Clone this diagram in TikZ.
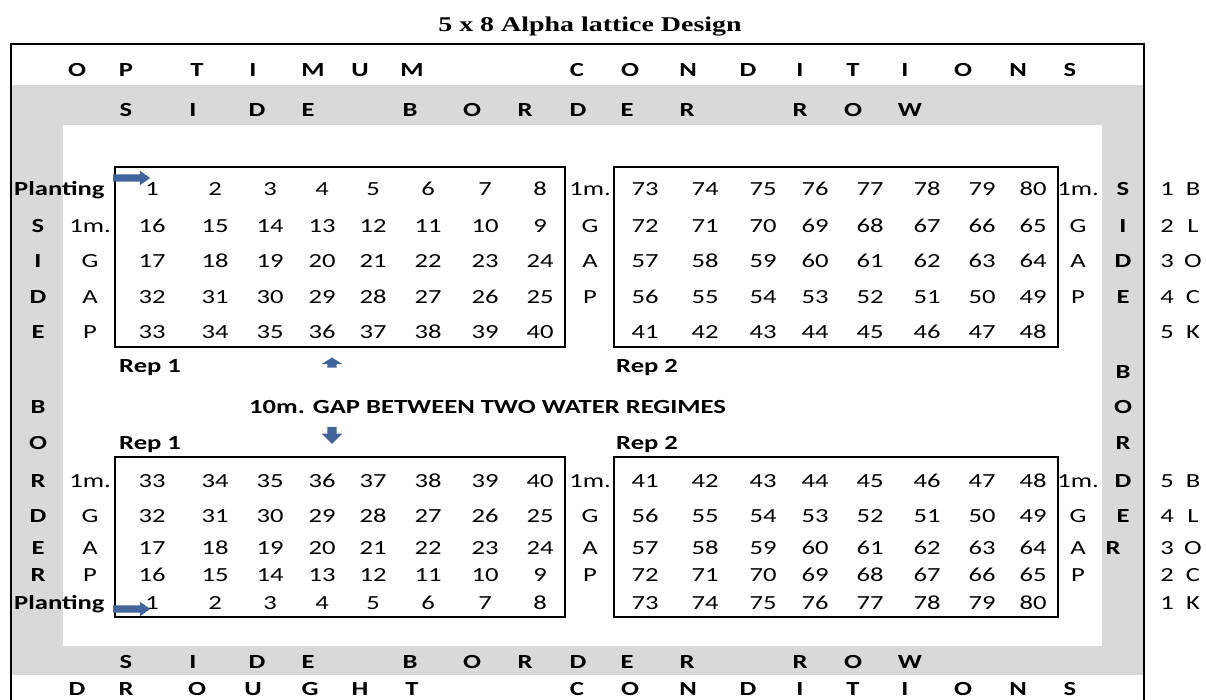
\documentclass[tikz,border=0pt]{standalone}
\usepackage{fontspec}
\setmainfont{Carlito}[FakeStretch=1.33]
\newfontfamily\titlefont{Liberation Serif}[FakeStretch=1.33]
\usetikzlibrary{shapes.arrows}
\definecolor{SheetGray}{HTML}{D9D9D9}
\definecolor{ArrowBlue}{HTML}{41659A}
\tikzset{
  figtitle/.style={font=\titlefont\fontsize{21}{24}\selectfont\bfseries},
  cell/.style={font=\fontsize{20}{22}\selectfont, inner sep=0pt,
               text height=13pt, text depth=0pt},
  bcell/.style={cell, font=\fontsize{20}{22}\selectfont\bfseries},
  plotbox/.style={draw, line width=2.8pt, inner sep=0pt},
  frame/.style={line width=2.6pt},
  blockarrow/.style={single arrow, fill=ArrowBlue, draw=none, inner xsep=0pt,
                     text width=0pt, text height=0pt, text depth=0pt},
}

\begin{document}
\begin{tikzpicture}[x=1pt,y=-1pt]
  \useasboundingbox (0,0) rectangle (1206,700);

  % gray border strips and the outer frame
  \fill[SheetGray] (12,85) rectangle (1143,675);
  \fill[white] (63,125) rectangle (1102,646);
  \draw[frame] (11,700) -- (11,44) -- (1144,44) -- (1144,700);

  \node[figtitle] (title) at (590,27) {5 x 8 Alpha lattice Design};

  % replicate boxes
  \node[plotbox, minimum width=450pt, minimum height=180pt] (topA) at (340,257) {};
  \node[plotbox, minimum width=444pt, minimum height=180pt] (topB) at (836,257) {};
  \node[plotbox, minimum width=450pt, minimum height=160pt] (botA) at (340,537) {};
  \node[plotbox, minimum width=444pt, minimum height=160pt] (botB) at (836,537) {};

  % plot numbers, serpentine by row
  \foreach \y [count=\r] in {189,226,261,297,332}
    \foreach \x [count=\c] in {152,215,270,322,373,428,485,540} {
      \pgfmathtruncatemacro\plotno{8*(\r-1)+(isodd(\r) ? \c : 9-\c)}
      \node[cell] (tA\r-\c) at (\x,\y) {\plotno};
    }
  \foreach \y [count=\r] in {189,226,261,297,332}
    \foreach \x [count=\c] in {645,705,763,815,870,927,982,1033} {
      \pgfmathtruncatemacro\plotno{8*(10-\r)+(isodd(\r) ? \c : 9-\c)}
      \node[cell] (tB\r-\c) at (\x,\y) {\plotno};
    }
  \foreach \y [count=\r] in {481,516,548,575,603}
    \foreach \x [count=\c] in {152,215,270,322,373,428,485,540} {
      \pgfmathtruncatemacro\plotno{8*(5-\r)+(isodd(\r) ? \c : 9-\c)}
      \node[cell] (bA\r-\c) at (\x,\y) {\plotno};
    }
  \foreach \y [count=\r] in {481,516,548,575,603}
    \foreach \x [count=\c] in {645,705,763,815,870,927,982,1033} {
      \pgfmathtruncatemacro\plotno{8*(4+\r)+(isodd(\r) ? \c : 9-\c)}
      \node[cell] (bB\r-\c) at (\x,\y) {\plotno};
    }

  % spelled-out border rows
  \foreach \x/\t [count=\i] in {77/O,126/P,197/T,253/I,313/M,360/U,412/M,577/C,630/O,
      688/N,748/D,800/I,853/T,905/I,963/O,1018/N,1070/S}
    \node[bcell] (opt\i) at (\x,70) {\t};
  \foreach \x/\t [count=\i] in {126/S,193/I,257/D,308/E,410/B,472/O,525/R,578/D,627/E,
      687/R,800/R,853/O,910/W}
    \node[bcell] (sbt\i) at (\x,110) {\t};
  \foreach \x/\t [count=\i] in {126/S,193/I,257/D,308/E,410/B,472/O,525/R,578/D,627/E,
      687/R,800/R,853/O,910/W}
    \node[bcell] (sbb\i) at (\x,662) {\t};
  \foreach \x/\t [count=\i] in {77/D,126/R,197/O,253/U,310/G,360/H,412/T,577/C,630/O,
      688/N,748/D,800/I,853/T,905/I,963/O,1018/N,1070/S}
    \node[bcell] (dro\i) at (\x,689) {\t};

  % side columns
  \foreach \y/\t [count=\i] in {226/S,261/I,297/D,332/E,407/B,443/O,481/R,516/D,548/E,575/R}
    \node[bcell] (lside\i) at (38,\y) {\t};
  \foreach \x/\y/\t [count=\i] in {1123/189/S,1123/226/I,1123/261/D,1123/297/E,1123/372/B,
      1123/407/O,1123/443/R,1123/481/D,1123/516/E,1113/548/R}
    \node[bcell] (rside\i) at (\x,\y) {\t};

  % 1m. gaps between blocks
  \foreach \y/\t [count=\i] in {226/1m.,261/G,297/A,332/P,481/1m.,516/G,548/A,575/P}
    \node[cell] (lgap\i) at (90,\y) {\t};
  \foreach \y/\t [count=\i] in {189/1m.,226/G,261/A,297/P,481/1m.,516/G,548/A,575/P}
    \node[cell] (mgap\i) at (590,\y) {\t};
  \foreach \y/\t [count=\i] in {189/1m.,226/G,261/A,297/P,481/1m.,516/G,548/A,575/P}
    \node[cell] (rgap\i) at (1078,\y) {\t};

  % BLOCK key on the right
  \foreach \y/\n/\t [count=\i] in {189/1/B,226/2/L,261/3/O,297/4/C,332/5/K,
      481/5/B,516/4/L,548/3/O,575/2/C,603/1/K} {
    \node[cell] (blkno\i) at (1167,\y) {\n};
    \node[cell] (blkl\i) at (1193,\y) {\t};
  }

  \node[bcell, anchor=west] (plantT) at (14,189) {Planting};
  \node[bcell, anchor=west] (plantB) at (14,603) {Planting};
  \node[bcell, anchor=west] (repTA) at (119,366) {Rep 1};
  \node[bcell, anchor=west] (repTB) at (616,366) {Rep 2};
  \node[bcell, anchor=west] (repBA) at (119,443) {Rep 1};
  \node[bcell, anchor=west] (repBB) at (616,443) {Rep 2};
  \node[bcell, anchor=west] (gap) at (249,407) {10m. GAP BETWEEN TWO WATER REGIMES};

  % planting direction and gap arrows
  \node[blockarrow, anchor=west, minimum height=37pt, inner ysep=3.5pt,
        single arrow head extend=3.5pt, single arrow tip angle=70] (dirT) at (113,178) {};
  \node[blockarrow, anchor=west, minimum height=37pt, inner ysep=3.5pt,
        single arrow head extend=3.5pt, single arrow tip angle=70] (dirB) at (113,609) {};
  \node[blockarrow, rotate=90, minimum height=10pt, inner ysep=4.5pt,
        single arrow head extend=5.5pt, single arrow tip angle=115] (gapup) at (332,364) {};
  \node[blockarrow, rotate=-90, minimum height=17pt, inner ysep=4.5pt,
        single arrow head extend=5.5pt, single arrow tip angle=90] (gapdown) at (332,433) {};
\end{tikzpicture}
\end{document}
